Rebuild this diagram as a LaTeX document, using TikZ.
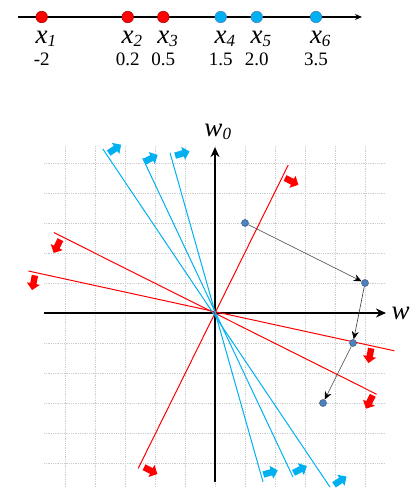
\documentclass[tikz,border=0pt]{standalone}
\usepackage{fontspec}
\setmainfont{Liberation Serif}
\usepackage{xcolor}
\usepackage{tikz}
\usetikzlibrary{arrows.meta, shapes.arrows}
\definecolor{mcyan}{RGB}{0, 176, 240}
\definecolor{mred}{RGB}{255, 0, 0}
\definecolor{msteel}{RGB}{79, 129, 189}
\definecolor{mgrid}{RGB}{205, 205, 205}
\newcommand{\ilab}[2]{{\fontsize{27}{27}\selectfont\itshape #1}\rlap{\smash{\raisebox{-3pt}{\fontsize{17}{17}\selectfont\itshape #2}}}}

\begin{document}
\begin{tikzpicture}[
      x=1pt, y=1pt,
      dot/.style ={circle, inner sep=0pt, minimum size=11.5pt, line width=0.6pt},
      rdot/.style={dot, fill=mred, draw=mred!70!black},
      bdot/.style={dot, fill=mcyan, draw=msteel},
      lab/.style ={anchor=base, inner sep=0pt},
      num/.style ={anchor=base, inner sep=0pt, font=\fontsize{19}{19}\selectfont},
      gridl/.style={mgrid, densely dotted, line width=0.8pt},
      axis/.style={line width=2pt, -{Stealth[length=10pt, width=9pt]}},
      bline/.style={mcyan, line width=1pt},
      rline/.style={mred, line width=1pt},
      fat/.style ={single arrow, draw=none, inner sep=3pt, minimum height=15pt,
                   minimum width=12pt, single arrow head extend=3.5pt},
      barr/.style={fat, fill=mcyan},
      rarr/.style={fat, fill=mred},
      wpt/.style ={circle, inner sep=0pt, minimum size=7pt, fill=msteel,
                   draw=msteel!70!black, line width=0.5pt},
      upd/.style ={black!75, line width=0.6pt, -{Stealth[length=8pt, width=7pt, black]}},
    ]
      \useasboundingbox (0,0) rectangle (411,490);

      % data points on the input line
      \coordinate (l0) at (18,473);
      \coordinate (l1) at (362,473);
      \draw[line width=1.6pt, -{Stealth[length=7pt, width=6pt]}] (l0) -- (l1);
      \foreach \n/\px/\v/\s in {1/41.7/-2/rdot, 2/127.7/0.2/rdot, 3/163.3/0.5/rdot,
                                4/220.7/1.5/bdot, 5/256.7/2.0/bdot, 6/316/3.5/bdot}{
        \node[\s]  (d\n) at (\px,473) {};
        \node[lab] (x\n) at (\px,446) {\ilab{x}{\n}};
        \node[num] (v\n) at (\px,424) {\v};
      }

      % weight space
      \begin{scope}[shift={(215,177)}, x=30pt, y=30pt]
        \foreach \k in {-5,...,5}{
          \draw[gridl] (\k,-5.8) -- (\k,5.6);
          \draw[gridl] (-5.7,\k) -- (5.67,\k);
        }
        \coordinate (ax0) at (-5.7,0);
        \coordinate (ax1) at (5.7,0);
        \coordinate (ay0) at (0,-5.63);
        \coordinate (ay1) at (0,5.53);
        \draw[axis] (ax0) -- (ax1);
        \draw[axis] (ay0) -- (ay1);
        \node[lab] (w0) at (-0.05,5.88) {\ilab{w}{0}};
        \node[anchor=base west, inner sep=0pt] (w1) at (5.88,-0.23)
          {\fontsize{27}{27}\selectfont\itshape w};

        % one line per data point
        \draw[rline] (-2.56,-5.18) -- (2.44,4.93);
        \draw[rline] (-6.22,1.4)   -- (5.98,-1.26);
        \draw[rline] (-5.37,2.68)  -- (5.39,-2.71);
        \draw[bline] (-3.74,5.47)  -- (3.83,-5.8);
        \draw[bline] (-2.41,5.16)  -- (2.6,-5.47);
        \draw[bline] (-1.5,5.34)   -- (1.6,-5.63);

        % positive side
        \node[rarr, rotate=-27]  (a1t) at (2.51,4.41)   {};
        \node[rarr, rotate=-27]  (a1b) at (-2.19,-5.23) {};
        \node[rarr, rotate=-101] (a2l) at (-6.04,1.06)  {};
        \node[rarr, rotate=-101] (a2r) at (5.17,-1.37)  {};
        \node[rarr, rotate=-117] (a3l) at (-5.24,2.27)  {};
        \node[rarr, rotate=-117] (a3r) at (5.17,-2.92)  {};
        \node[barr, rotate=34]   (a4t) at (-3.38,5.44)  {};
        \node[barr, rotate=34]   (a4b) at (4.13,-5.62)  {};
        \node[barr, rotate=27]   (a5t) at (-2.18,5.13)  {};
        \node[barr, rotate=27]   (a5b) at (2.79,-5.24)  {};
        \node[barr, rotate=16]   (a6t) at (-1.14,5.3)   {};
        \node[barr, rotate=16]   (a6b) at (1.8,-5.33)   {};

        % perceptron updates
        \node[wpt] (p0) at (1,3)     {};
        \node[wpt] (p1) at (5,1)     {};
        \node[wpt] (p2) at (4.6,-1)  {};
        \node[wpt] (p3) at (3.6,-3)  {};
        \draw[upd] (p0) -- (p1);
        \draw[upd] (p1) -- (p2);
        \draw[upd] (p2) -- (p3);
      \end{scope}
    \end{tikzpicture}
\end{document}
